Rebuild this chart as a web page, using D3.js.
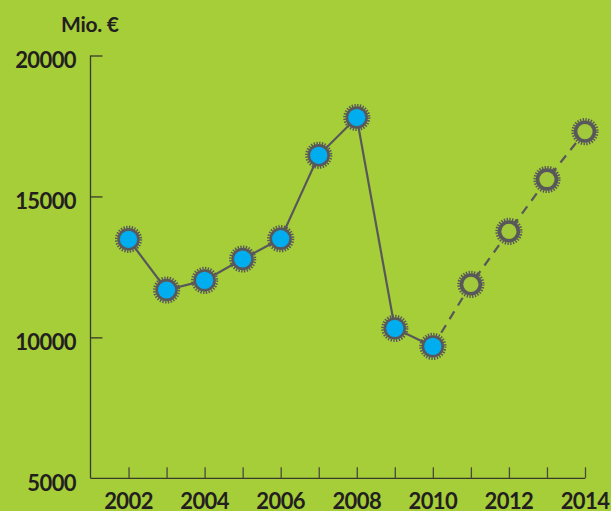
<!DOCTYPE html>
<html><head><meta charset="utf-8">
<script src="https://cdn.jsdelivr.net/npm/d3@7"></script>
<style>html,body{margin:0;padding:0;background:#a6ce39;}svg{display:block;}</style>
</head><body>
<script>
const years = [2002,2003,2004,2005,2006,2007,2008,2009,2010,2011,2012,2013,2014];
const values = [13480,11680,12020,12780,13500,16460,17800,10320,9680,11880,13760,15600,17300];
const actualUntil = 2010;
const yTicks = [5000,10000,15000,20000];
const xLabels = [2002,2004,2006,2008,2010,2012,2014];
const unitLabel = "Mio. €";

const W = 611, H = 511;
const svg = d3.select("body").append("svg").attr("width", W).attr("height", H);
svg.append("rect").attr("width", W).attr("height", H).attr("fill", "#a6ce39");

const x = d3.scaleLinear().domain([2001, 2014]).range([90.5, 585]);
const y = d3.scaleLinear().domain([5000, 20000]).range([478.3, 55.5]);
const ink = "#231f20";
const grey = "#58585a";
const axisCol = "#3a3a2a";
const font = "Lato, 'Open Sans', sans-serif";

// y axis
const yAxis = d3.axisRight(y).tickValues(yTicks.filter(d => d > 5000)).tickSize(12).tickFormat("");
const gy = svg.append("g").attr("transform", `translate(${x(2001)},0)`).call(yAxis);
gy.select(".domain").attr("stroke", axisCol).attr("stroke-width", 1.3).attr("d", `M0,${y(20000)}V${y(5000)}`);
gy.selectAll(".tick line").attr("stroke", axisCol).attr("stroke-width", 1.3);

// x axis
const xAxis = d3.axisTop(x).tickValues(years).tickSize(11).tickFormat("");
const gx = svg.append("g").attr("transform", `translate(0,${y(5000)})`).call(xAxis);
gx.select(".domain").attr("stroke", axisCol).attr("stroke-width", 1.3).attr("d", `M${x(2001)},0H${x(2014)}`);
gx.selectAll(".tick line").attr("stroke", "#4a4a3a").attr("stroke-width", 1.3);

svg.selectAll(".ylab").data(yTicks).enter().append("text")
  .attr("x", 76).attr("y", d => y(d) + 4.5).attr("dy", "0.36em").attr("text-anchor", "end")
  .attr("font-family", font).attr("font-weight", "bold").attr("font-size", 22)
  .attr("letter-spacing", -0.6).attr("fill", ink)
  .text(d => d);
svg.append("text").attr("x", 61).attr("y", 31.5).attr("font-family", font).attr("font-weight", "bold")
  .attr("font-size", 21).attr("letter-spacing", -0.3).attr("fill", ink).text(unitLabel);
svg.selectAll(".xlab").data(xLabels).enter().append("text")
  .attr("x", d => x(d)).attr("y", 509).attr("text-anchor", "middle")
  .attr("font-family", font).attr("font-weight", "bold").attr("font-size", 22)
  .attr("letter-spacing", -0.6).attr("fill", ink)
  .text(d => d);

const data = years.map((yr, i) => ({yr, v: values[i]}));
const line = d3.line().x(d => x(d.yr)).y(d => y(d.v));
svg.append("path").datum(data.filter(d => d.yr <= actualUntil)).attr("d", line)
  .attr("fill", "none").attr("stroke", grey).attr("stroke-width", 2.2);
svg.append("path").datum(data.filter(d => d.yr >= actualUntil)).attr("d", line)
  .attr("fill", "none").attr("stroke", grey).attr("stroke-width", 2.2).attr("stroke-dasharray", "9,7");

const m = svg.selectAll(".m").data(data).enter().append("g")
  .attr("transform", d => `translate(${x(d.yr)},${y(d.v)})`);
const rT = 12.2;
const circ = 2 * Math.PI * rT;
const nT = 28;
m.append("circle").attr("r", rT).attr("fill", "none").attr("stroke", grey).attr("stroke-width", 2.8)
  .attr("stroke-dasharray", `${circ / nT / 2},${circ / nT / 2}`);
m.append("circle").attr("r", 11.2).attr("fill", grey);
m.append("circle").attr("r", d => d.yr <= actualUntil ? 8.6 : 7.6)
  .attr("fill", d => d.yr <= actualUntil ? "#00aeef" : "#a2c83c");
</script>
</body></html>
